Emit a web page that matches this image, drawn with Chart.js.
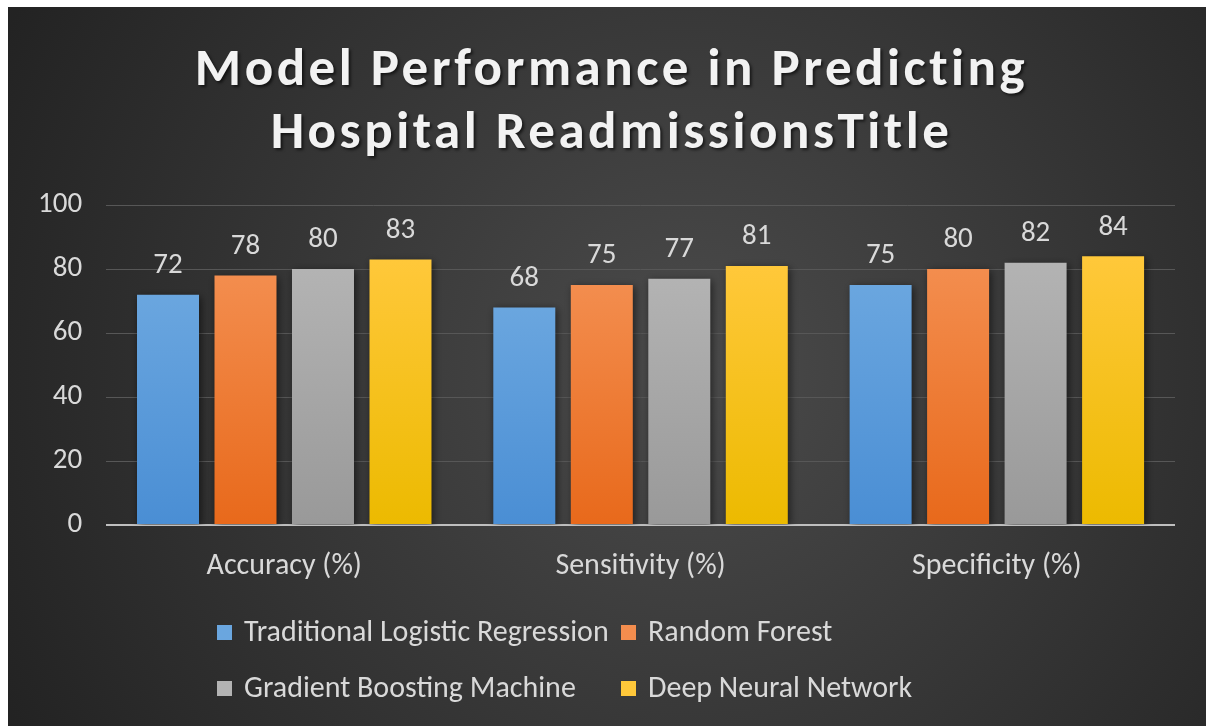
<!DOCTYPE html>
<html>
<head>
    <title>Model Performance</title>
    <script src="https://cdn.jsdelivr.net/npm/chart.js"></script>
    <style>
        html, body { margin: 0; padding: 0; background: #ffffff; }
        #wrap { position: absolute; left: 8px; top: 7px; width: 1198px; height: 719px; }
    </style>
</head>
<body>
    <div id="wrap"><canvas id="barChart"></canvas></div>

    <script>
        // data
        var categories = ["Accuracy (%)", "Sensitivity (%)", "Specificity (%)"];
        var models = ["Traditional Logistic Regression", "Random Forest", "Gradient Boosting Machine", "Deep Neural Network"];
        var logisticRegression = [72, 68, 75];
        var randomForest = [78, 75, 80];
        var gradientBoosting = [80, 77, 82];
        var deepNeuralNet = [83, 81, 84];
        var yTicks = [0, 20, 40, 60, 80, 100];

        var seriesValues = [logisticRegression, randomForest, gradientBoosting, deepNeuralNet];
        // top / bottom of each bar's gradient
        var colorsTop = ["#6aa6df", "#f38d4e", "#b3b3b3", "#ffc83a"];
        var colorsBottom = ["#4a8ed4", "#e8691b", "#999999", "#ecba00"];

        var FONT = "Carlito, Calibri, 'Open Sans', sans-serif";
        var TEXT = "#d9d9d9";

        function barGradient(i) {
            return function (c) {
                var chart = c.chart;
                if (!chart.chartArea || c.raw === undefined) return colorsTop[i];
                var y = chart.scales.y;
                var g = chart.ctx.createLinearGradient(0, y.getPixelForValue(c.raw), 0, y.getPixelForValue(0));
                g.addColorStop(0, colorsTop[i]);
                g.addColorStop(1, colorsBottom[i]);
                return g;
            };
        }

        var backgroundPlugin = {
            id: "bg",
            beforeDraw: function (chart) {
                var ctx = chart.ctx;
                var g = ctx.createRadialGradient(680, 360, 0, 680, 360, 760);
                g.addColorStop(0, "#4b4b4b");
                g.addColorStop(1, "#232323");
                ctx.save();
                ctx.fillStyle = g;
                ctx.fillRect(0, 0, chart.width, chart.height);
                ctx.restore();

                // spaced-out, shadowed title like the original, centred on the whole picture
                var tb = chart.titleBlock;
                if (tb && !tb._wrapped) {
                    var orig = tb.draw;
                    tb.draw = function () {
                        var c = this.ctx;
                        c.save();
                        c.translate(17, 0);
                        c.letterSpacing = "3.5px";
                        c.shadowColor = "rgba(0,0,0,0.6)";
                        c.shadowBlur = 3;
                        c.shadowOffsetX = 2;
                        c.shadowOffsetY = 2;
                        orig.apply(this, arguments);
                        c.restore();
                    };
                    tb._wrapped = true;
                }
            }
        };

        var shadowPlugin = {
            id: "barShadow",
            beforeDatasetsDraw: function (chart) {
                var ctx = chart.ctx;
                ctx.save();
                ctx.shadowColor = "rgba(0,0,0,0.55)";
                ctx.shadowBlur = 8;
                ctx.shadowOffsetX = 2;
                ctx.shadowOffsetY = 2;
            },
            afterDatasetsDraw: function (chart) {
                chart.ctx.restore();
            }
        };

        var labelPlugin = {
            id: "valueLabels",
            afterDraw: function (chart) {
                var ctx = chart.ctx;
                ctx.save();
                ctx.font = "29px " + FONT;
                ctx.fillStyle = TEXT;
                ctx.textAlign = "center";
                ctx.textBaseline = "middle";
                chart.data.datasets.forEach(function (ds, i) {
                    chart.getDatasetMeta(i).data.forEach(function (bar, j) {
                        ctx.fillText(ds.data[j], bar.x, bar.y - 29);
                    });
                });
                ctx.restore();
            }
        };

        // legend laid out in two aligned columns like the original
        var legendPlugin = {
            id: "gridLegend",
            afterDraw: function (chart) {
                var ctx = chart.ctx;
                var colX = [209, 613];
                var rowY = [625, 681];
                ctx.save();
                ctx.font = "30px " + FONT;
                ctx.textBaseline = "middle";
                ctx.textAlign = "left";
                models.forEach(function (name, i) {
                    var x = colX[i % 2], y = rowY[Math.floor(i / 2)];
                    ctx.fillStyle = colorsTop[i];
                    ctx.fillRect(x, y - 7, 15, 15);
                    ctx.fillStyle = TEXT;
                    ctx.fillText(name, x + 27, y + 1);
                });
                ctx.restore();
            }
        };

        var ctx = document.getElementById("barChart").getContext("2d");
        var chart = new Chart(ctx, {
            type: "bar",
            data: {
                labels: categories,
                datasets: models.map(function (m, i) {
                    return {
                        label: m,
                        data: seriesValues[i],
                        backgroundColor: barGradient(i),
                        borderWidth: 0,
                        barPercentage: 0.8,
                        categoryPercentage: 0.87
                    };
                })
            },
            options: {
                responsive: true,
                maintainAspectRatio: false,
                animation: false,
                layout: { padding: { left: 6, right: 31, bottom: 127 } },
                plugins: {
                    legend: { display: false },
                    tooltip: { enabled: false },
                    title: {
                        display: true,
                        text: ["Model Performance in Predicting", "Hospital ReadmissionsTitle"],
                        color: "#f2f2f2",
                        font: { family: FONT, size: 53, weight: "bold", lineHeight: 1.19 },
                        padding: { top: 33, bottom: 39 }
                    }
                },
                scales: {
                    x: {
                        grid: { display: false },
                        border: { display: false },
                        ticks: { color: TEXT, font: { family: FONT, size: 30 }, padding: 15 }
                    },
                    y: {
                        min: 0,
                        max: 100,
                        afterBuildTicks: function (axis) {
                            axis.ticks = yTicks.map(function (v) { return { value: v }; });
                        },
                        border: { display: false },
                        grid: {
                            drawTicks: false,
                            color: function (c) { return c.tick.value === 0 ? "#bfbfbf" : "#575757"; },
                            lineWidth: function (c) { return c.tick.value === 0 ? 2 : 1; }
                        },
                        ticks: { color: TEXT, font: { family: FONT, size: 29 }, padding: 24 }
                    }
                }
            },
            plugins: [backgroundPlugin, shadowPlugin, labelPlugin, legendPlugin]
        });
    </script>
</body>
</html>
